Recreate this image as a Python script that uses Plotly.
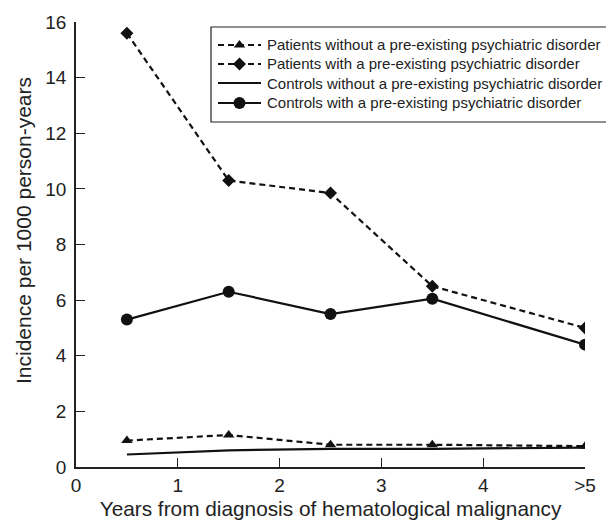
import plotly.graph_objects as go

x_vals = [0.5, 1.5, 2.5, 3.5, 5]
patients_without = [0.95, 1.15, 0.8, 0.8, 0.75]
patients_with = [15.6, 10.3, 9.85, 6.5, 5.0]
controls_without = [0.45, 0.6, 0.65, 0.65, 0.7]
controls_with = [5.3, 6.3, 5.5, 6.05, 4.4]
x_tickvals = [0, 1, 2, 3, 4, 5]
x_ticktext = ["0", "1", "2", "3", "4", ">5"]
names = [
    "Patients without a pre-existing psychiatric disorder",
    "Patients with a pre-existing psychiatric disorder",
    "Controls without a pre-existing psychiatric disorder",
    "Controls with a pre-existing psychiatric disorder",
]
x_title = "Years from diagnosis of hematological malignancy"
y_title = "Incidence per 1000 person-years"

FAMILY = "Liberation Sans, Arial, sans-serif"
DASH = "6px,4px"
INK = "#111"
styles = [
    dict(dash=DASH, symbol="triangle-up", size=10),
    dict(dash=DASH, symbol="diamond", size=10),
    dict(dash="solid", symbol=None, size=0),
    dict(dash="solid", symbol="circle", size=12),
]
series = [patients_without, patients_with, controls_without, controls_with]

# plot area in pixels
L, R, T, B = 76, 585, 22, 467
W, H = 606, 523

fig = go.Figure()
for name, ys, st in zip(names, series, styles):
    fig.add_trace(go.Scatter(
        x=x_vals, y=ys, name=name, showlegend=False,
        mode="lines+markers" if st["symbol"] else "lines",
        line=dict(color=INK, width=2.2, dash=st["dash"]),
        marker=dict(symbol=st["symbol"] or "circle", size=st["size"], color=INK)))

# ---- hand-built legend (pixel overlay axes) ----
LEG_X0, LEG_Y0, LEG_Y1 = 211, 27, 122
ROW_Y = [45, 64, 83, 103]
SYM_X0, SYM_X1, TXT_X = 218, 261, 265


def px(xp):
    return (xp - L) / (R - L)


def py(yp):
    return (B - yp) / (B - T)


fig.add_shape(type="rect", xref="paper", yref="paper",
              x0=px(LEG_X0), x1=px(W + 5), y0=py(LEG_Y1), y1=py(LEG_Y0),
              line=dict(color="#222", width=1.2), fillcolor="white", layer="below")
for name, st, ry in zip(names, styles, ROW_Y):
    fig.add_trace(go.Scatter(
        x=[SYM_X0, SYM_X1], y=[ry, ry], xaxis="x2", yaxis="y2", mode="lines",
        line=dict(color=INK, width=2.2, dash=st["dash"]), showlegend=False, hoverinfo="skip"))
    if st["symbol"]:
        fig.add_trace(go.Scatter(
            x=[(SYM_X0 + SYM_X1) / 2], y=[ry], xaxis="x2", yaxis="y2", mode="markers",
            marker=dict(symbol=st["symbol"], size=st["size"], color=INK),
            showlegend=False, hoverinfo="skip"))
    fig.add_annotation(text=name, xref="paper", yref="paper", x=px(TXT_X), y=py(ry),
                       xanchor="left", yanchor="middle", showarrow=False,
                       font=dict(size=15, color="#222", family=FAMILY))

# y-axis title placed as rotated text (slightly above the axis centre, as in the reference)
fig.add_annotation(text=y_title, xref="paper", yref="paper", x=px(24), y=py(231),
                   xanchor="center", yanchor="middle", showarrow=False, textangle=-90,
                   font=dict(size=21, color="#222", family=FAMILY))

fig.update_layout(
    width=W, height=H,
    margin=dict(l=L, r=W - R, t=T, b=H - B, autoexpand=False),
    paper_bgcolor="white", plot_bgcolor="rgba(0,0,0,0)",
    font=dict(family=FAMILY, color="#222", size=16),
    showlegend=False,
    xaxis2=dict(overlaying="x", range=[L, R], visible=False, fixedrange=True),
    yaxis2=dict(overlaying="y", range=[B, T], visible=False, fixedrange=True),
)
fig.layout.xaxis.update(range=[0, 5], tickvals=x_tickvals, ticktext=x_ticktext, automargin=False,
                        showline=True, linecolor="#222", linewidth=1.5, ticks="inside",
                        tickcolor="#222", ticklen=9, showgrid=False, zeroline=False,
                        title=dict(text=x_title, standoff=7, font=dict(size=20.8, family=FAMILY)),
                        tickfont=dict(size=19, family=FAMILY))
fig.layout.yaxis.update(range=[0, 16], tickvals=list(range(0, 17, 2)), automargin=False,
                        showline=True, linecolor="#222", linewidth=1.5, ticks="inside",
                        tickcolor="#222", ticklen=9, showgrid=False, zeroline=False,
                        ticklabelstandoff=4,
                        tickfont=dict(size=19, family=FAMILY))

fig.write_html("out.html", config={"displayModeBar": False},
               post_script="document.body.style.margin='0';document.body.style.overflow='hidden';")
